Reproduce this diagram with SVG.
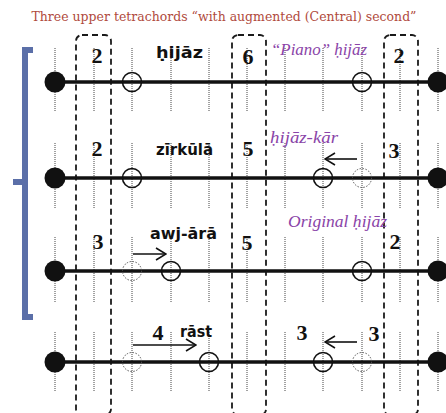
<svg xmlns="http://www.w3.org/2000/svg" width="446" height="413" viewBox="0 0 446 413">
<style>
.title{font-family:"DejaVu Serif","Liberation Serif",serif;font-size:12.5px;fill:#b04a3c}
.dig{font-family:"Liberation Serif",serif;font-weight:bold;font-size:22px;fill:#111;text-anchor:middle}
.lab{font-family:"DejaVu Sans","Liberation Sans",sans-serif;font-weight:bold;font-size:15px;fill:#111}
.pur{font-family:"Liberation Serif",serif;font-style:italic;font-size:16px;fill:#8a44a8}
.dot{stroke:#444;stroke-width:1;stroke-dasharray:1 1;fill:none}
.box{stroke:#1a1a1a;stroke-width:1.8;stroke-dasharray:6 4;fill:none}
.row{stroke:#111;stroke-width:3.5}
.end{fill:#111}
.oc{fill:none;stroke:#111;stroke-width:1.6}
.dc{fill:none;stroke:#555;stroke-width:1;stroke-dasharray:1.5 1.5}
.arr{stroke:#111;stroke-width:1.6;fill:none;marker-end:url(#ah)}
</style>
<defs>
<marker id="ah" markerWidth="12" markerHeight="14" refX="11" refY="7" orient="auto" markerUnits="userSpaceOnUse">
<path d="M1,1 L11,7 L1,13" fill="none" stroke="#111" stroke-width="1.6"/>
</marker>
</defs>
<rect width="446" height="413" fill="#fff"/>
<text class="title" x="224" y="20.5" text-anchor="middle" textLength="385" lengthAdjust="spacingAndGlyphs">Three upper tetrachords “with augmented (Central) second”</text>
<g id="bracket">
<path d="M33,50 L25,50 L25,317 L33,317 M25,182 L13,182" fill="none" stroke="#5b6fa8" stroke-width="6"/>
</g>
<g id="grid">
<path class="dot" d="M55,48V112M94,48V112M132,48V112M171,48V112M209,48V112M247,48V112M285,48V112M323,48V112M362,48V112M400,48V112M438,48V112
M55,143V208M94,143V208M132,143V208M171,143V208M209,143V208M247,143V208M285,143V208M323,143V208M362,143V208M400,143V208M438,143V208
M55,237V303M94,237V303M132,237V303M171,237V303M209,237V303M247,237V303M285,237V303M323,237V303M362,237V303M400,237V303M438,237V303
M55,332V392M94,332V392M132,332V392M171,332V392M209,332V392M247,332V392M285,332V392M323,332V392M362,332V392M400,332V392M438,332V392"/>
</g>
<g id="boxes">
<rect class="box" x="76" y="35" width="35" height="380" rx="6"/>
<rect class="box" x="232" y="35" width="34" height="380" rx="6"/>
<rect class="box" x="384" y="35" width="34" height="380" rx="6"/>
</g>
<g id="row1">
<line class="row" x1="55" y1="82" x2="438" y2="82"/>
<circle class="end" cx="55" cy="82" r="10.5"/>
<circle class="end" cx="438" cy="82" r="10.5"/>
<circle class="oc" cx="132" cy="82" r="9.5"/>
<circle class="oc" cx="362" cy="82" r="9.5"/>
<text class="dig" x="97" y="63">2</text>
<text class="lab" x="156" y="58" textLength="47" lengthAdjust="spacingAndGlyphs">ḥijāz</text>
<text class="dig" x="248" y="64">6</text>
<text class="pur" x="271" y="55" textLength="96" lengthAdjust="spacingAndGlyphs">“Piano” ḥijāz</text>
<text class="dig" x="399" y="63">2</text>
</g>
<g id="row2">
<line class="row" x1="55" y1="178" x2="438" y2="178"/>
<circle class="end" cx="55" cy="178" r="10.5"/>
<circle class="end" cx="438" cy="178" r="10.5"/>
<circle class="oc" cx="132" cy="178" r="9.5"/>
<circle class="oc" cx="323" cy="178" r="9.5"/>
<circle class="dc" cx="362" cy="178" r="9.5"/>
<text class="dig" x="97" y="156">2</text>
<text class="lab" x="156" y="155" textLength="57" lengthAdjust="spacingAndGlyphs">zīrkūlā</text>
<text class="dig" x="248" y="156">5</text>
<text class="pur" x="270" y="143" textLength="68" lengthAdjust="spacingAndGlyphs">ḥijāz-kār</text>
<text class="dig" x="394" y="158">3</text>
</g>
<g id="row3">
<line class="row" x1="55" y1="271" x2="438" y2="271"/>
<circle class="end" cx="55" cy="271" r="10.5"/>
<circle class="end" cx="438" cy="271" r="10.5"/>
<circle class="dc" cx="132" cy="271" r="9.5"/>
<circle class="oc" cx="171" cy="271" r="9.5"/>
<circle class="oc" cx="362" cy="271" r="9.5"/>
<text class="dig" x="98" y="249">3</text>
<text class="lab" x="150" y="239" textLength="67" lengthAdjust="spacingAndGlyphs">awj-ārā</text>
<text class="dig" x="247" y="250">5</text>
<text class="pur" x="288" y="227" textLength="99" lengthAdjust="spacingAndGlyphs">Original ḥijāz</text>
<text class="dig" x="395" y="249">2</text>
</g>
<g id="row4">
<line class="row" x1="55" y1="362" x2="438" y2="362"/>
<circle class="end" cx="55" cy="362" r="10.5"/>
<circle class="end" cx="438" cy="362" r="10.5"/>
<circle class="dc" cx="132" cy="362" r="9.5"/>
<circle class="oc" cx="209" cy="362" r="9.5"/>
<circle class="oc" cx="323" cy="362" r="9.5"/>
<circle class="dc" cx="362" cy="362" r="9.5"/>
<text class="dig" x="158" y="340">4</text>
<text class="lab" x="180" y="337" textLength="32" lengthAdjust="spacingAndGlyphs">rāst</text>
<text class="dig" x="302" y="340">3</text>
<text class="dig" x="374" y="341">3</text>
</g>
<g id="connectors">
<line class="arr" x1="357" y1="159" x2="325" y2="159"/>
<line class="arr" x1="133" y1="254" x2="166" y2="254"/>
<line class="arr" x1="133" y1="345" x2="196" y2="345"/>
<line class="arr" x1="357" y1="342" x2="325" y2="342"/>
</g>
</svg>
